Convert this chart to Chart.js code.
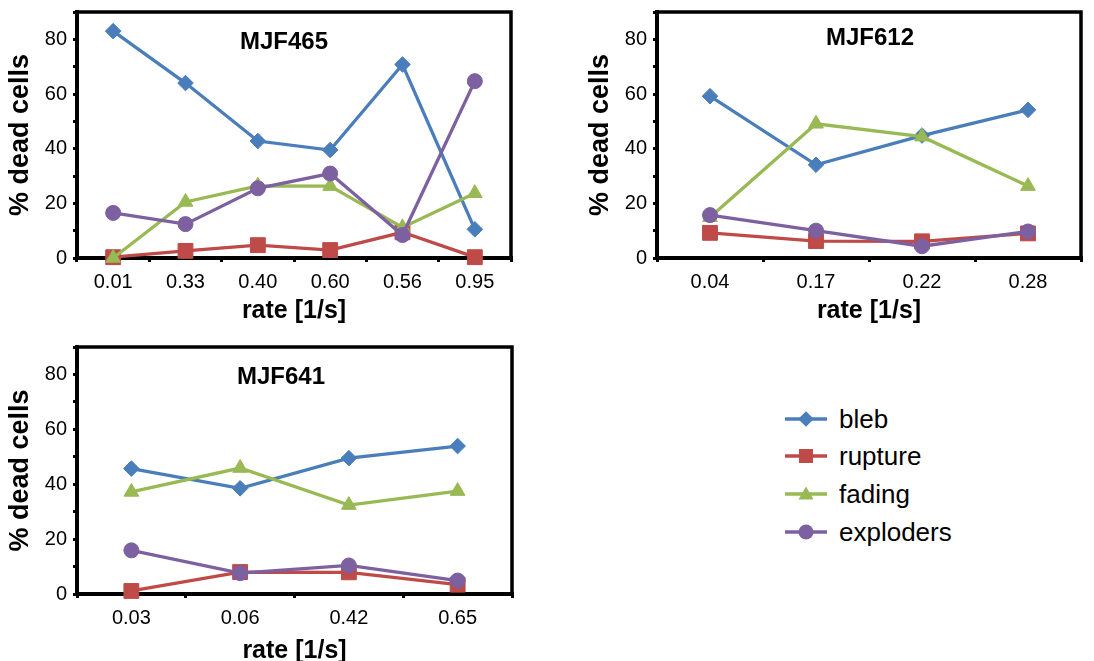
<!DOCTYPE html>
<html>
<head>
	<title>% dead cells vs rate</title>
	<script src="https://cdn.jsdelivr.net/npm/chart.js@4/dist/chart.umd.min.js"></script>
	<style>
		body { margin: 0; width: 1094px; height: 661px; overflow: hidden; background: #fff; font-family: "Liberation Sans", Arial, sans-serif; }
		canvas { position: absolute; }
		.row { position: absolute; left: 785px; height: 30px; }
		.row svg { position: absolute; left: 0; top: 0; }
		.row span { position: absolute; left: 54px; top: 0; font-size: 26px; line-height: 30px; color: #000; white-space: nowrap; }
	</style>
</head>
<body>
	<canvas id="chart1" width="530" height="330" style="left:0;top:0"></canvas>
	<canvas id="chart2" width="514" height="330" style="left:580px;top:0"></canvas>
	<canvas id="chart3" width="530" height="331" style="left:0;top:335px"></canvas>
	<div id="legend"></div>

	<script type="text/javascript">
		var seriesNames = ['bleb', 'rupture', 'fading', 'exploders'];
		var colors = ['#4a7ebb', '#be4b48', '#98b954', '#7d60a0'];

		// MJF465
		var rates465 = ['0.01', '0.33', '0.40', '0.60', '0.56', '0.95'];
		var bleb465 = [83, 64, 42.8, 39.5, 70.8, 10.5];
		var rupture465 = [0.3, 2.6, 4.7, 2.9, 9.4, 0.3];
		var fading465 = [0, 20.5, 26.4, 26.3, 11.2, 23.7];
		var exploders465 = [16.5, 12.4, 25.5, 30.9, 8.4, 64.7];

		// MJF612
		var rates612 = ['0.04', '0.17', '0.22', '0.28'];
		var bleb612 = [59.2, 34.1, 44.8, 54.2];
		var rupture612 = [9.2, 6.2, 6.1, 9];
		var fading612 = [14.9, 49.1, 44.4, 26.3];
		var exploders612 = [15.7, 10, 4.3, 9.7];

		// MJF641
		var rates641 = ['0.03', '0.06', '0.42', '0.65'];
		var bleb641 = [45.7, 38.5, 49.5, 53.9];
		var rupture641 = [1.1, 8, 7.9, 3.4];
		var fading641 = [37.2, 45.9, 32.4, 37.5];
		var exploders641 = [15.9, 7.6, 10.4, 4.9];

		var yMin = 0, yMax = 90, yStep = 10;

		var pointStyles = ['rectRot', 'rect', 'triangle', 'circle'];
		var pointSizes = [7.8, 10.5, 8.5, 7.5];
		var drawOrder = [3, 2, 1, 0];

		Chart.defaults.font.family = '"Liberation Sans", Arial, sans-serif';
		Chart.defaults.color = '#000';

		// top/right frame plus the strain name inside the plot
		var framePlugin = {
			id: 'frame',
			beforeDatasetsDraw: function(chart) {
				var a = chart.chartArea, ctx = chart.ctx;
				ctx.save();
				ctx.strokeStyle = '#000';
				ctx.lineWidth = 3.5;
				ctx.beginPath();
				ctx.moveTo(a.left - 2, a.top);
				ctx.lineTo(a.right, a.top);
				ctx.lineTo(a.right, a.bottom + 2);
				ctx.stroke();
				ctx.restore();
			},
			afterDraw: function(chart, args, opts) {
				var ctx = chart.ctx;
				ctx.save();
				ctx.font = 'bold 24px "Liberation Sans", Arial, sans-serif';
				ctx.fillStyle = '#000';
				ctx.textAlign = 'center';
				ctx.textBaseline = 'middle';
				ctx.fillText(opts.text, opts.x, chart.chartArea.top + opts.y);
				ctx.restore();
			}
		};

		function makeDatasets(values) {
			return values.map(function(v, i) {
				return {
					label: seriesNames[i],
					data: v,
					borderColor: colors[i],
					backgroundColor: colors[i],
					borderWidth: 3.3,
					pointStyle: pointStyles[i],
					pointRadius: pointSizes[i],
					pointBackgroundColor: colors[i],
					pointBorderColor: colors[i],
					pointBorderWidth: 1,
					order: drawOrder[i],
					clip: false,
					tension: 0
				};
			});
		}

		function makeChart(id, labels, values, title, titleX, titleY, padRight, xTitlePad) {
			return new Chart(document.getElementById(id), {
				type: 'line',
				data: { labels: labels, datasets: makeDatasets(values) },
				plugins: [framePlugin],
				options: {
					responsive: false,
					animation: false,
					layout: { padding: { top: 12, right: padRight, left: 0, bottom: 0 } },
					plugins: {
						legend: { display: false },
						tooltip: { enabled: false },
						frame: { text: title, x: titleX, y: titleY }
					},
					scales: {
						x: {
							offset: true,
							afterFit: function(s) { s.height = 72; s.paddingLeft = 0; s.paddingRight = 0; },
							border: { color: '#000', width: 4 },
							grid: { offset: true, drawOnChartArea: false, tickLength: 4, color: '#000', lineWidth: 3 },
							ticks: { padding: 8, color: '#000', font: { size: 20 }, maxRotation: 0, autoSkip: false },
							title: { display: true, text: 'rate [1/s]', color: '#000', font: { size: 25, weight: 'bold' }, padding: { top: 0, bottom: xTitlePad } }
						},
						y: {
							min: yMin,
							max: yMax,
							afterFit: function(s) { s.width = 77; s.paddingTop = 0; s.paddingBottom = 0; },
							border: { color: '#000', width: 4 },
							grid: { drawOnChartArea: false, tickLength: 4, color: '#000', lineWidth: 3 },
							ticks: {
								stepSize: yStep, padding: 6, color: '#000', font: { size: 20 },
								callback: function(v) { return (v % 20 === 0 && v < yMax) ? v : ''; }
							},
							title: { display: true, text: '% dead cells', color: '#000', font: { size: 27, weight: 'bold' }, padding: { top: 4, bottom: 0 } }
						}
					}
				}
			});
		}

		var chart1 = makeChart('chart1', rates465, [bleb465, rupture465, fading465, exploders465], 'MJF465', 284, 30, 19, 4);
		var chart2 = makeChart('chart2', rates612, [bleb612, rupture612, fading612, exploders612], 'MJF612', 290, 26.5, 13, 4);
		var chart3 = makeChart('chart3', rates641, [bleb641, rupture641, fading641, exploders641], 'MJF641', 281, 30, 18, 0);

		// legend: line with marker, then name
		var markerSvg = [
			'<polygon points="21,7.2 28.8,15 21,22.8 13.2,15" />',
			'<rect x="14" y="8" width="14" height="14" />',
			'<polygon points="21,7.5 28.5,20.5 13.5,20.5" />',
			'<circle cx="21" cy="15" r="7.5" />'
		];
		var legendTops = [404, 441, 479, 517];
		var legendHtml = '';
		for (var i = 0; i < seriesNames.length; i++) {
			legendHtml += '<div class="row" style="top:' + legendTops[i] + 'px">' +
				'<svg width="44" height="30"><line x1="0" y1="15" x2="42" y2="15" stroke="' + colors[i] + '" stroke-width="3.5" />' +
				'<g fill="' + colors[i] + '">' + markerSvg[i] + '</g></svg>' +
				'<span>' + seriesNames[i] + '</span></div>';
		}
		document.getElementById('legend').innerHTML = legendHtml;
	</script>
</body>
</html>
